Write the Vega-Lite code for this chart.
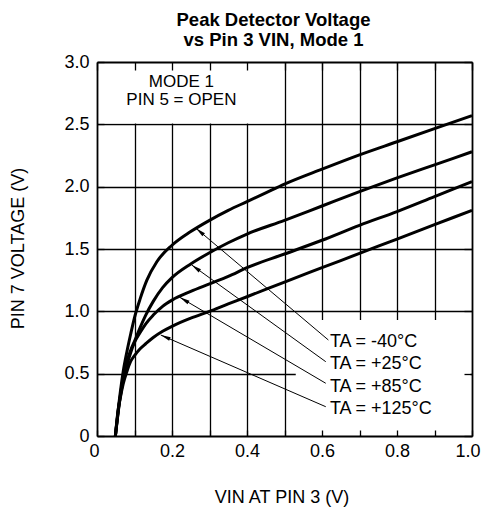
{
  "$schema": "https://vega.github.io/schema/vega-lite/v6.json",
  "width": 375,
  "height": 374,
  "autosize": {"type": "none"},
  "padding": {"left": 97, "top": 62, "right": 10, "bottom": 76},
  "title": {
    "text": ["Peak Detector Voltage", "vs Pin 3 VIN, Mode 1"],
    "fontSize": 18.5,
    "fontWeight": "bold",
    "font": "Liberation Sans",
    "color": "black",
    "anchor": "middle",
    "dx": -11,
    "offset": -11,
    "baseline": "alphabetic",
    "lineHeight": 19.5
  },
  "config": {
    "view": {"stroke": null},
    "font": "Liberation Sans",
    "axis": {
      "labelFont": "Liberation Sans",
      "titleFont": "Liberation Sans",
      "labelColor": "black",
      "titleColor": "black",
      "labelFontSize": 18,
      "titleFontSize": 18,
      "titleFontWeight": "normal",
      "domainColor": "black",
      "domainWidth": 1.8,
      "tickColor": "black",
      "tickWidth": 1.3,
      "gridColor": "black",
      "gridOpacity": 1,
      "gridWidth": 1.3,
      "labelFlush": false,
      "labelOverlap": false
    }
  },
  "datasets": {
    "boxes": [
      {"box": "mode", "x1": 0.004, "x2": 0.497, "y1": 2.506, "y2": 2.996},
      {"box": "legend", "x1": 0.53, "x2": 0.996, "y1": 0.004, "y2": 0.93}
    ],
    "curves": [
      {"temp": "-40", "vin": 0.049, "v": 0},
      {"temp": "-40", "vin": 0.06, "v": 0.3},
      {"temp": "-40", "vin": 0.07, "v": 0.52},
      {"temp": "-40", "vin": 0.08, "v": 0.68},
      {"temp": "-40", "vin": 0.09, "v": 0.82},
      {"temp": "-40", "vin": 0.1, "v": 0.95},
      {"temp": "-40", "vin": 0.115, "v": 1.1},
      {"temp": "-40", "vin": 0.133, "v": 1.25},
      {"temp": "-40", "vin": 0.16, "v": 1.4},
      {"temp": "-40", "vin": 0.2, "v": 1.53},
      {"temp": "-40", "vin": 0.25, "v": 1.64},
      {"temp": "-40", "vin": 0.3, "v": 1.73},
      {"temp": "-40", "vin": 0.35, "v": 1.81},
      {"temp": "-40", "vin": 0.4, "v": 1.88},
      {"temp": "-40", "vin": 0.45, "v": 1.95},
      {"temp": "-40", "vin": 0.5, "v": 2.02},
      {"temp": "-40", "vin": 0.6, "v": 2.14},
      {"temp": "-40", "vin": 0.7, "v": 2.255},
      {"temp": "-40", "vin": 0.8, "v": 2.36},
      {"temp": "-40", "vin": 0.9, "v": 2.465},
      {"temp": "-40", "vin": 1.0, "v": 2.57},
      {"temp": "+25", "vin": 0.049, "v": 0},
      {"temp": "+25", "vin": 0.06, "v": 0.28},
      {"temp": "+25", "vin": 0.07, "v": 0.47},
      {"temp": "+25", "vin": 0.08, "v": 0.6},
      {"temp": "+25", "vin": 0.09, "v": 0.69},
      {"temp": "+25", "vin": 0.1, "v": 0.76},
      {"temp": "+25", "vin": 0.115, "v": 0.87},
      {"temp": "+25", "vin": 0.13, "v": 0.97},
      {"temp": "+25", "vin": 0.15, "v": 1.08},
      {"temp": "+25", "vin": 0.175, "v": 1.19},
      {"temp": "+25", "vin": 0.2, "v": 1.27},
      {"temp": "+25", "vin": 0.25, "v": 1.38},
      {"temp": "+25", "vin": 0.3, "v": 1.47},
      {"temp": "+25", "vin": 0.35, "v": 1.55},
      {"temp": "+25", "vin": 0.4, "v": 1.62},
      {"temp": "+25", "vin": 0.5, "v": 1.73},
      {"temp": "+25", "vin": 0.6, "v": 1.845},
      {"temp": "+25", "vin": 0.7, "v": 1.96},
      {"temp": "+25", "vin": 0.8, "v": 2.07},
      {"temp": "+25", "vin": 0.9, "v": 2.175},
      {"temp": "+25", "vin": 1.0, "v": 2.28},
      {"temp": "+85", "vin": 0.049, "v": 0},
      {"temp": "+85", "vin": 0.06, "v": 0.27},
      {"temp": "+85", "vin": 0.07, "v": 0.45},
      {"temp": "+85", "vin": 0.08, "v": 0.57},
      {"temp": "+85", "vin": 0.09, "v": 0.67},
      {"temp": "+85", "vin": 0.1, "v": 0.75},
      {"temp": "+85", "vin": 0.115, "v": 0.83},
      {"temp": "+85", "vin": 0.13, "v": 0.9},
      {"temp": "+85", "vin": 0.15, "v": 0.97},
      {"temp": "+85", "vin": 0.175, "v": 1.04},
      {"temp": "+85", "vin": 0.2, "v": 1.09},
      {"temp": "+85", "vin": 0.25, "v": 1.16},
      {"temp": "+85", "vin": 0.3, "v": 1.22},
      {"temp": "+85", "vin": 0.35, "v": 1.28},
      {"temp": "+85", "vin": 0.4, "v": 1.35},
      {"temp": "+85", "vin": 0.5, "v": 1.46},
      {"temp": "+85", "vin": 0.6, "v": 1.57},
      {"temp": "+85", "vin": 0.7, "v": 1.69},
      {"temp": "+85", "vin": 0.8, "v": 1.8},
      {"temp": "+85", "vin": 0.9, "v": 1.92},
      {"temp": "+85", "vin": 1.0, "v": 2.04},
      {"temp": "+125", "vin": 0.049, "v": 0},
      {"temp": "+125", "vin": 0.056, "v": 0.2},
      {"temp": "+125", "vin": 0.063, "v": 0.32},
      {"temp": "+125", "vin": 0.07, "v": 0.42},
      {"temp": "+125", "vin": 0.08, "v": 0.52},
      {"temp": "+125", "vin": 0.09, "v": 0.6},
      {"temp": "+125", "vin": 0.1, "v": 0.645},
      {"temp": "+125", "vin": 0.115, "v": 0.7},
      {"temp": "+125", "vin": 0.13, "v": 0.74},
      {"temp": "+125", "vin": 0.15, "v": 0.79},
      {"temp": "+125", "vin": 0.175, "v": 0.84},
      {"temp": "+125", "vin": 0.2, "v": 0.88},
      {"temp": "+125", "vin": 0.25, "v": 0.945},
      {"temp": "+125", "vin": 0.3, "v": 1.0},
      {"temp": "+125", "vin": 0.35, "v": 1.06},
      {"temp": "+125", "vin": 0.4, "v": 1.117},
      {"temp": "+125", "vin": 0.5, "v": 1.235},
      {"temp": "+125", "vin": 0.6, "v": 1.35},
      {"temp": "+125", "vin": 0.7, "v": 1.465},
      {"temp": "+125", "vin": 0.8, "v": 1.58},
      {"temp": "+125", "vin": 0.9, "v": 1.695},
      {"temp": "+125", "vin": 1.0, "v": 1.81}
    ],
    "arrows": [
      {"temp": "-40", "label": "TA = -40°C", "xt": 0.264, "yt": 1.666, "xl": 0.617, "yl": 0.77, "tx": 0.621, "ty": 0.756},
      {"temp": "+25", "label": "TA = +25°C", "xt": 0.2525, "yt": 1.372, "xl": 0.61, "yl": 0.596, "tx": 0.621, "ty": 0.578},
      {"temp": "+85", "label": "TA = +85°C", "xt": 0.221, "yt": 1.112, "xl": 0.61, "yl": 0.423, "tx": 0.621, "ty": 0.395},
      {"temp": "+125", "label": "TA = +125°C", "xt": 0.17, "yt": 0.81, "xl": 0.61, "yl": 0.235, "tx": 0.621, "ty": 0.217}
    ],
    "notes": [
      {"text": "MODE 1\nPIN 5 = OPEN", "x": 0.225, "y": 2.836}
    ]
  },
  "resolve": {"axis": {"x": "independent", "y": "independent"}},
  "layer": [
    {
      "data": {"name": "boxes"},
      "mark": {"type": "rect", "fill": "white", "strokeWidth": 0},
      "encoding": {
        "x": {"field": "x1", "type": "quantitative", "scale": {"domain": [0, 1], "nice": false, "zero": false},
          "axis": {"orient": "bottom", "grid": true, "values": [0.1, 0.2, 0.3, 0.4, 0.5, 0.6, 0.7, 0.8, 0.9], "labels": false, "ticks": false, "domain": false, "title": null, "zindex": 0}},
        "x2": {"field": "x2"},
        "y": {"field": "y1", "type": "quantitative", "scale": {"domain": [0, 3], "nice": false, "zero": false},
          "axis": {"orient": "left", "grid": true, "values": [0.5, 1, 1.5, 2, 2.5], "labels": false, "ticks": false, "domain": false, "title": null, "zindex": 0}},
        "y2": {"field": "y2"}
      }
    },
    {
      "data": {"name": "curves"},
      "mark": {"type": "line", "color": "black", "strokeWidth": 3, "interpolate": "monotone"},
      "encoding": {
        "x": {"field": "vin", "type": "quantitative", "scale": {"domain": [0, 1], "nice": false, "zero": false},
          "axis": {"orient": "bottom", "grid": false, "values": [0, 0.1, 0.2, 0.3, 0.4, 0.5, 0.6, 0.7, 0.8, 0.9, 1.0],
            "labelExpr": "datum.value == 0 ? '0' : (round(datum.value * 10) % 2 == 0 ? format(datum.value, '.1f') : '')",
            "labelFlush": true, "labelFlushOffset": 8,
            "tickSize": -6, "labelPadding": 12, "domain": true,
            "title": "VIN AT PIN 3 (V)", "titleX": 184.5, "titleY": 61, "titleBaseline": "middle", "titleAlign": "center", "zindex": 1}},
        "y": {"field": "v", "type": "quantitative", "scale": {"domain": [0, 3], "nice": false, "zero": false},
          "axis": {"orient": "left", "grid": false, "values": [0, 0.5, 1, 1.5, 2, 2.5, 3],
            "labelExpr": "datum.value == 0 ? '0' : format(datum.value, '.1f')",
            "tickSize": -7, "labelPadding": 15, "domain": true,
            "title": "PIN 7 VOLTAGE (V)", "titleAngle": -90, "titleX": -79, "titleY": 186, "titleBaseline": "middle", "titleAlign": "center", "zindex": 1}},
        "detail": {"field": "temp", "type": "nominal"}
      }
    },
    {
      "data": {"name": "arrows"},
      "mark": {"type": "rule", "color": "black", "strokeWidth": 1},
      "encoding": {
        "x": {"field": "xt", "type": "quantitative", "scale": {"domain": [0, 1], "nice": false, "zero": false},
          "axis": {"orient": "top", "grid": false, "values": [0, 0.1, 0.2, 0.3, 0.4, 0.5, 0.6, 0.7, 0.8, 0.9, 1.0], "labels": false, "tickSize": -8, "domain": true, "title": null, "zindex": 1}},
        "y": {"field": "yt", "type": "quantitative", "scale": {"domain": [0, 3], "nice": false, "zero": false},
          "axis": {"orient": "right", "grid": false, "values": [0, 0.5, 1, 1.5, 2, 2.5, 3], "labels": false, "tickSize": -8, "domain": true, "title": null, "zindex": 1}},
        "x2": {"field": "xl"},
        "y2": {"field": "yl"}
      }
    },
    {
      "data": {"name": "arrows"},
      "transform": [
        {"calculate": "atan2((datum.xt - datum.xl) * 375, (datum.yt - datum.yl) * 124.67) * 180 / PI", "as": "ang"}
      ],
      "mark": {"type": "point", "shape": "M0,0L0.5,2.5L-0.5,2.5Z", "filled": true, "color": "black", "size": 64, "opacity": 1},
      "encoding": {
        "x": {"field": "xt", "type": "quantitative", "scale": {"domain": [0, 1], "nice": false, "zero": false}, "axis": null},
        "y": {"field": "yt", "type": "quantitative", "scale": {"domain": [0, 3], "nice": false, "zero": false}, "axis": null},
        "angle": {"field": "ang", "type": "quantitative", "scale": null}
      }
    },
    {
      "data": {"name": "arrows"},
      "mark": {"type": "text", "align": "left", "baseline": "middle", "fontSize": 18, "font": "Liberation Sans", "color": "black"},
      "encoding": {
        "x": {"field": "tx", "type": "quantitative", "scale": {"domain": [0, 1], "nice": false, "zero": false}, "axis": null},
        "y": {"field": "ty", "type": "quantitative", "scale": {"domain": [0, 3], "nice": false, "zero": false}, "axis": null},
        "text": {"field": "label"}
      }
    },
    {
      "data": {"name": "notes"},
      "mark": {"type": "text", "align": "center", "baseline": "middle", "fontSize": 17, "lineHeight": 17.5, "lineBreak": "\n", "font": "Liberation Sans", "color": "black"},
      "encoding": {
        "x": {"field": "x", "type": "quantitative", "scale": {"domain": [0, 1], "nice": false, "zero": false}, "axis": null},
        "y": {"field": "y", "type": "quantitative", "scale": {"domain": [0, 3], "nice": false, "zero": false}, "axis": null},
        "text": {"field": "text"}
      }
    }
  ]
}
